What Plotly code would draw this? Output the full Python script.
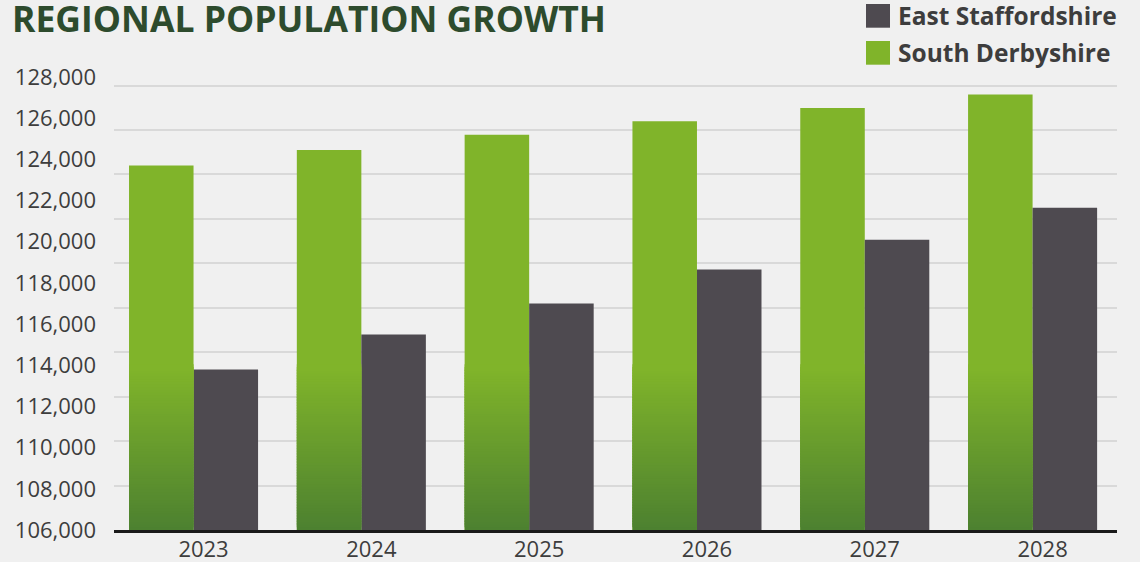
import plotly.graph_objects as go

# ---------------- data ----------------
years = ["2023", "2024", "2025", "2026", "2027", "2028"]
east_staffordshire = [113800, 115500, 117000, 118650, 120100, 121650]
south_derbyshire = [123700, 124450, 125200, 125850, 126500, 127150]
y_tick_values = list(range(106000, 128001, 2000))
series_names = ["East Staffordshire", "South Derbyshire"]
title_text = "REGIONAL POPULATION GROWTH"

# ---------------- styling ----------------
W, H = 1140, 562
ML, MR, MT, MB = 114, 23, 77, 32
PLOT_W = W - ML - MR
PLOT_H = H - MT - MB
BG = "#f0f0f0"
GREEN = "#80b42a"
GREEN_DARK = "#4d8130"
GREY = "#4e4a50"
GRID = "#d9d9d9"
TEXT = "#3d3d3d"
TITLE_COLOR = "#2d4b2d"
FONT = "Open Sans"
Y_MIN, Y_MAX = 106000, 128000
GRAD_TOP = 113850      # height where the green bars begin to darken
N_SLICES = 60
GRID_STEP_PX = 44.45   # decorative gridline spacing (not aligned to labels)


def mix(c1, c2, t):
    a = [int(c1[i:i + 2], 16) for i in (1, 3, 5)]
    b = [int(c2[i:i + 2], 16) for i in (1, 3, 5)]
    return "rgb(%d,%d,%d)" % tuple(round(a[k] + (b[k] - a[k]) * t) for k in range(3))


def px_x(p):
    return (p - ML) / PLOT_W


def px_y(p):
    return (H - MB - p) / PLOT_H


fig = go.Figure()

# South Derbyshire (solid green)
fig.add_bar(x=years, y=south_derbyshire, name=series_names[1], marker_color=GREEN,
            marker_line_width=0, offsetgroup="sd")
# East Staffordshire (grey)
fig.add_bar(x=years, y=east_staffordshire, name=series_names[0], marker_color=GREY,
            marker_line_width=0, offsetgroup="es")

# gradient overlay for the lower part of the green bars (overlapping slices, no seams)
step = (GRAD_TOP - Y_MIN) / N_SLICES
for i in range(N_SLICES):
    t = i / (N_SLICES - 1)
    fig.add_bar(x=years, y=[step * 2.5] * len(years), base=[Y_MIN + i * step] * len(years),
                marker_color=mix(GREEN_DARK, GREEN, t), marker_line_width=0,
                offsetgroup="sd", showlegend=False, hoverinfo="skip")

# empty trace carrying the decorative grid axis
fig.add_scatter(x=[], y=[], yaxis="y2", showlegend=False, hoverinfo="skip")

fig.update_layout(
    width=W, height=H,
    margin=dict(l=ML, r=MR, t=MT, b=MB, autoexpand=False),
    paper_bgcolor=BG, plot_bgcolor=BG,
    barmode="group", bargap=0.231, bargroupgap=0,
    showlegend=False,
    font=dict(family=FONT, color=TEXT),
    title=dict(text=title_text, x=12 / W, xref="container", xanchor="left",
               y=1 - 20 / H, yref="container", yanchor="middle",
               font=dict(family=FONT, size=35.5, color=TITLE_COLOR, weight=700)),
    xaxis=dict(type="category", range=[-0.474, 5.503], showgrid=False,
               showline=True, linecolor="#1a1a1a", linewidth=3, ticks="",
               tickfont=dict(size=22, color=TEXT), ticklabelshift=10,
               ticklabelstandoff=-2, automargin=False, fixedrange=True),
    yaxis=dict(range=[Y_MIN, Y_MAX], tickvals=y_tick_values, tickformat=",d",
               showgrid=False, zeroline=False, showline=False, ticks="",
               tickfont=dict(size=22, color=TEXT), ticklabelstandoff=17,
               automargin=False, fixedrange=True),
    yaxis2=dict(overlaying="y", side="right", range=[0, PLOT_H / GRID_STEP_PX],
                dtick=1, tick0=0, showticklabels=False, showgrid=True,
                gridcolor=GRID, gridwidth=2, zeroline=False, showline=False,
                ticks="", automargin=False, fixedrange=True),
)

# manual legend (large square swatches)
legend_rows = [(series_names[0], GREY, 4, 27.7), (series_names[1], GREEN, 41, 64.7)]
for name, color, top, bottom in legend_rows:
    fig.add_shape(type="rect", xref="paper", yref="paper",
                  x0=px_x(866), x1=px_x(890), y0=px_y(bottom), y1=px_y(top),
                  fillcolor=color, line_width=0)
    fig.add_annotation(text=name, xref="paper", yref="paper", x=px_x(896),
                       y=px_y((top + bottom) / 2), xanchor="left", yanchor="middle",
                       showarrow=False,
                       font=dict(family=FONT, size=24.5, color=TEXT, weight=700))

fig.write_html("out.html")
